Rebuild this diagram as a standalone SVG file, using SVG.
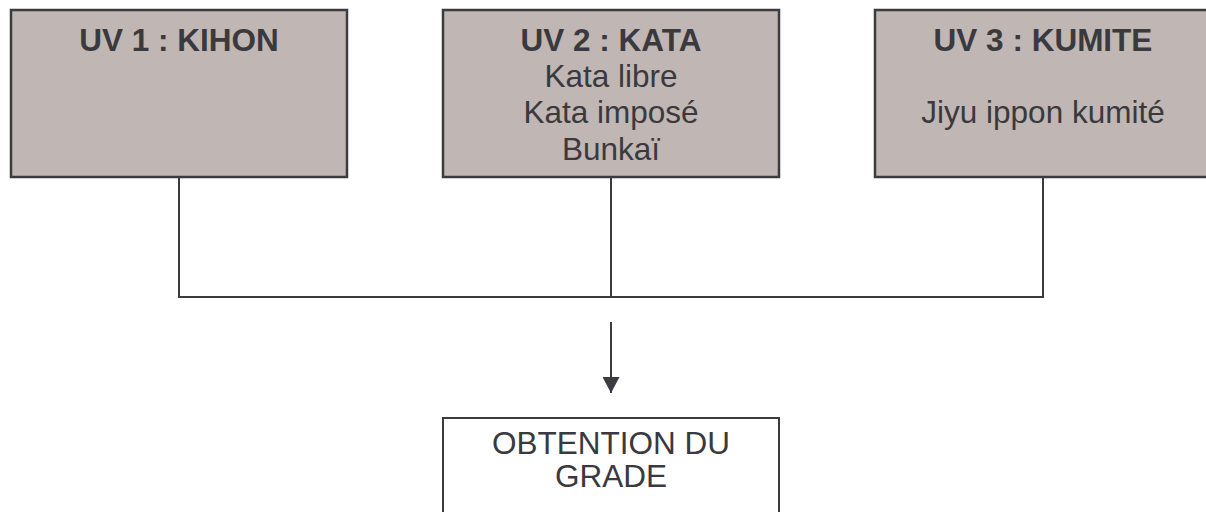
<svg xmlns="http://www.w3.org/2000/svg" width="1206" height="512" viewBox="0 0 1206 512">
  <defs>
    <style>
      .uv { fill: #c0b6b3; stroke: #3c3b40; stroke-width: 2.5; }
      .res { fill: #ffffff; stroke: #3c3b40; stroke-width: 2; }
      .t { font-family: "Liberation Sans", Arial, sans-serif; font-size: 31.5px; fill: #3a393e; text-anchor: middle; }
      .b { font-weight: bold; }
      .conn { fill: none; stroke: #3c3b40; stroke-width: 2; }
    </style>
    <marker id="arrow" markerWidth="17" markerHeight="17" refX="16" refY="8.5" orient="auto" markerUnits="userSpaceOnUse">
      <path d="M0,0 L16,8.5 L0,17 Z" fill="#3c3b40"/>
    </marker>
  </defs>
  <rect width="1206" height="512" fill="#ffffff"/>

  <g id="uv1">
    <rect class="uv" x="11" y="10" width="336" height="167"/>
    <text class="t b" x="179" y="50.5">UV 1 : KIHON</text>
  </g>

  <g id="uv2">
    <rect class="uv" x="443" y="10" width="336" height="167"/>
    <text class="t b" x="611" y="50.5">UV 2 : KATA</text>
    <text class="t" x="611" y="86.5">Kata libre</text>
    <text class="t" x="611" y="123">Kata imposé</text>
    <text class="t" x="611" y="159.5">Bunkaï</text>
  </g>

  <g id="uv3">
    <rect class="uv" x="875" y="10" width="336" height="167"/>
    <text class="t b" x="1043" y="50.5">UV 3 : KUMITE</text>
    <text class="t" x="1043" y="123">Jiyu ippon kumité</text>
  </g>

  <g id="grade">
    <rect class="res" x="443" y="418" width="336" height="110"/>
    <text class="t" x="611" y="453.5">OBTENTION DU</text>
    <text class="t" x="611" y="487">GRADE</text>
  </g>

  <g id="connectors">
    <path class="conn" d="M179,177 V297 H1043 V177"/>
    <path class="conn" d="M611,177 V297" stroke-width="1.6"/>
    <path class="conn" d="M611,322 V393" marker-end="url(#arrow)"/>
  </g>
</svg>
